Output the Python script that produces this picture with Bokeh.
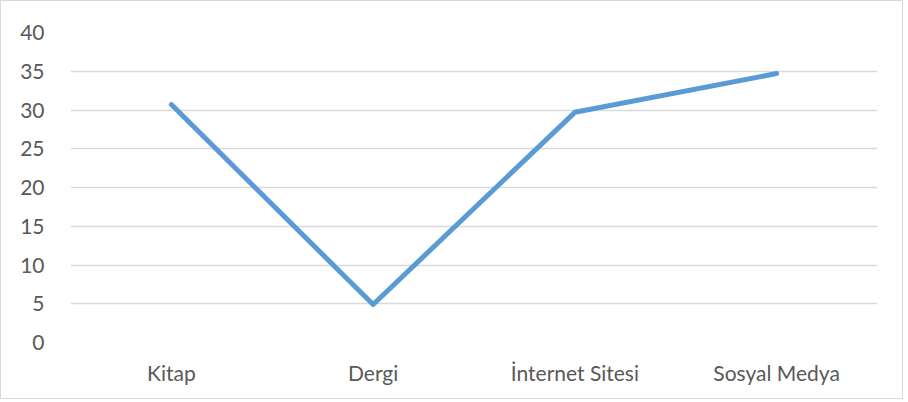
from bokeh.plotting import figure
from bokeh.models import FactorRange, Range1d, SingleIntervalTicker
from bokeh.embed import file_html
from bokeh.resources import INLINE

categories = ["Kitap", "Dergi", "İnternet Sitesi", "Sosyal Medya"]
values = [30.7, 4.9, 29.7, 34.7]

p = figure(
    x_range=FactorRange(factors=categories, range_padding=0),
    y_range=Range1d(0, 40),
    width=903, height=399,
    output_backend="svg", toolbar_location=None,
    min_border_left=69, min_border_right=27, min_border_top=31, min_border_bottom=58,
    styles={"border": "1px solid #d9d9d9"},
)
p.outline_line_color = None
p.background_fill_color = "white"
p.border_fill_color = "white"

p.line(x=categories, y=values, line_color="#5B9BD5", line_width=5,
       line_cap="round", line_join="round")

p.yaxis.ticker = SingleIntervalTicker(interval=5)
p.ygrid.ticker = SingleIntervalTicker(interval=5)
p.xgrid.grid_line_color = None
p.ygrid.grid_line_color = "#d9d9d9"
p.ygrid.grid_line_width = 1.3

for ax in (p.xaxis, p.yaxis):
    ax.axis_line_color = None
    ax.major_tick_line_color = None
    ax.minor_tick_line_color = None
    ax.major_label_text_color = "#595959"
    ax.major_label_text_font = "Lato"
    ax.major_label_text_font_size = "21px"

p.yaxis.major_label_standoff = 20
p.xaxis.major_label_standoff = 11

open("out.html", "w").write(file_html(p, INLINE))
